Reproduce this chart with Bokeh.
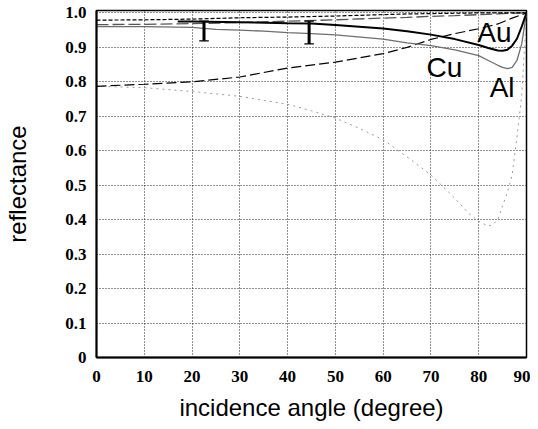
from bokeh.plotting import figure
from bokeh.models import Range1d, FixedTicker, ColumnDataSource
from bokeh.embed import file_html
from bokeh.resources import INLINE
from bokeh.core.properties import value

# ---- data ----
ang_a = [0, 10, 20, 30, 40, 50, 60, 65, 70, 75, 80, 84, 87, 90]
top_dashed = [0.979, 0.980, 0.982, 0.986, 0.988, 0.991, 0.995, 0.997, 0.998, 0.999, 1.0, 1.0, 1.0, 1.0]
gray_dashed = [0.966, 0.967, 0.969, 0.972, 0.976, 0.980, 0.985, 0.987, 0.990, 0.992, 0.995, 0.997, 0.999, 1.0]

ang_b = [17, 20, 30, 40, 45, 50, 60, 65, 70, 75, 80, 82, 84, 85, 86, 87, 88, 89, 90]
bold_solid = [0.975, 0.975, 0.973, 0.970, 0.969, 0.965, 0.955, 0.947, 0.937, 0.924, 0.907, 0.898, 0.891, 0.890, 0.893, 0.905, 0.925, 0.960, 1.0]

ang_c = [0, 10, 20, 25, 30, 35, 40, 45, 50, 60, 65, 70, 75, 80, 82, 84, 85, 86, 87, 88, 89, 90]
gray_solid = [0.960, 0.960, 0.958, 0.952, 0.950, 0.947, 0.943, 0.940, 0.936, 0.924, 0.913, 0.905, 0.893, 0.876, 0.862, 0.848, 0.842, 0.838, 0.842, 0.862, 0.910, 1.0]

ang_d = [0, 10, 20, 30, 40, 50, 60, 65, 70, 75, 80, 84, 87, 90]
low_s = [0.787, 0.793, 0.800, 0.814, 0.840, 0.857, 0.882, 0.900, 0.923, 0.940, 0.954, 0.968, 0.985, 1.0]

ang_e = [0, 10, 20, 25, 30, 35, 40, 45, 50, 55, 60, 65, 70, 75, 78, 80, 82, 83, 84, 85, 86, 87, 88, 89, 90]
low_p = [0.787, 0.783, 0.772, 0.765, 0.758, 0.746, 0.735, 0.716, 0.695, 0.665, 0.632, 0.582, 0.530, 0.462, 0.417,
         0.395, 0.381, 0.386, 0.400, 0.440, 0.480, 0.530, 0.640, 0.760, 1.0]

err_x = [22.5, 44.5]
err_lo = [0.919, 0.910]
err_hi = [0.976, 0.976]

labels = ["Au", "Cu", "Al"]
label_x = [83.3, 72.8, 84.9]
label_y = [0.944, 0.842, 0.784]

x_ticks = [0, 10, 20, 30, 40, 50, 60, 70, 80, 90]
y_ticks = [0, 0.1, 0.2, 0.3, 0.4, 0.5, 0.6, 0.7, 0.8, 0.9, 1.0]

# ---- figure ----
p = figure(width=530, height=429, output_backend="svg", toolbar_location=None,
           x_range=Range1d(0, 90), y_range=Range1d(0, 1.007),
           min_border_left=96, min_border_right=4, min_border_top=10, min_border_bottom=72)
p.background_fill_color = "white"
p.border_fill_color = "white"
p.outline_line_color = "black"
p.outline_line_width = 1.5

for ax in (p.xaxis, p.yaxis):
    ax.major_tick_out = 0
    ax.major_tick_in = 0
    ax.minor_tick_out = 0
    ax.minor_tick_in = 0
    ax.axis_line_color = "black"
    ax.axis_line_width = 2
    ax.major_label_text_font = "Liberation Serif"
    ax.major_label_text_font_style = "bold"
    ax.major_label_text_font_size = "17px"
    ax.major_label_text_color = "black"
    ax.axis_label_text_font = "Liberation Sans"
    ax.axis_label_text_font_style = "normal"
    ax.axis_label_text_font_size = "24px"
    ax.axis_label_text_color = "black"

p.xaxis.ticker = FixedTicker(ticks=x_ticks)
p.yaxis.ticker = FixedTicker(ticks=y_ticks)
p.yaxis.major_label_overrides = {0: "0", 1: "1.0"}
p.xaxis.axis_label = "incidence angle (degree)"
p.yaxis.axis_label = "reflectance"
p.xaxis.major_label_standoff = 13
p.yaxis.major_label_standoff = 10
p.xaxis.axis_label_standoff = 9
p.yaxis.axis_label_standoff = 31

for g in (p.xgrid, p.ygrid):
    g.grid_line_color = "#222222"
    g.grid_line_dash = "1 2"
    g.grid_line_width = 1

# curves
p.line(ang_e, low_p, line_color="#9a9a9a", line_width=1, line_dash="2 4")
p.line(ang_d, low_s, line_color="black", line_width=1.2, line_dash="10 4")
p.line(ang_c, gray_solid, line_color="#6e6e6e", line_width=1.3)
p.line(ang_a, gray_dashed, line_color="#555555", line_width=1.3, line_dash="12 4")
p.line(ang_a, top_dashed, line_color="black", line_width=1.2, line_dash="4 2")
p.line(ang_b, bold_solid, line_color="black", line_width=2)

# error bars
p.segment(x0=err_x, y0=err_lo, x1=err_x, y1=err_hi, line_color="black", line_width=3)
p.rect(x=err_x, y=err_lo, width=2.0, height=0.004, fill_color="black", line_color=None)
p.rect(x=err_x, y=err_hi, width=2.0, height=0.004, fill_color="black", line_color=None)

src = ColumnDataSource(dict(x=label_x, y=label_y, t=labels))
p.text(x="x", y="y", text="t", source=src, text_align="center", text_baseline="middle",
       text_font=value("Liberation Sans"), text_font_size="28px", text_color="black")

open("out.html", "w").write(file_html(p, INLINE))
